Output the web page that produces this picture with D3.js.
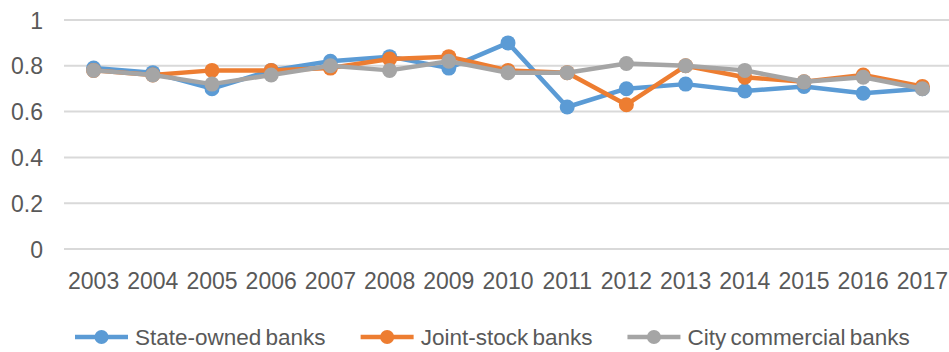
<!DOCTYPE html>
<html>
<head>
<meta charset="utf-8">
<script src="https://cdn.jsdelivr.net/npm/d3@7"></script>
<style>
    html, body { margin: 0; padding: 0; background: #fff; }
    svg text { font-family: "Liberation Sans", Arial, sans-serif; fill: #595959; }
</style>
</head>
<body>
<svg id="chart" width="949" height="352"></svg>
<script>
// Data
const years = ['2003', '2004', '2005', '2006', '2007', '2008', '2009', '2010',
               '2011', '2012', '2013', '2014', '2015', '2016', '2017'];
const stateOwned = [0.79, 0.77, 0.70, 0.78, 0.82, 0.84, 0.79, 0.90, 0.62, 0.70, 0.72, 0.69, 0.71, 0.68, 0.70];
const jointStock = [0.78, 0.76, 0.78, 0.78, 0.79, 0.83, 0.84, 0.78, 0.77, 0.63, 0.80, 0.75, 0.73, 0.76, 0.71];
const cityCommercial = [0.78, 0.76, 0.72, 0.76, 0.80, 0.78, 0.82, 0.77, 0.77, 0.81, 0.80, 0.78, 0.73, 0.75, 0.70];
const yTicks = [0, 0.2, 0.4, 0.6, 0.8, 1];
const seriesNames = ['State-owned banks', 'Joint-stock banks', 'City commercial banks'];
const seriesColors = ['#5b9bd5', '#ed7d31', '#a5a5a5'];

(function() {
    'use strict';

    const svg = d3.select('#chart');
    const margin = { left: 64, right: -3, top: 20, bottom: 103 };
    const width = 949 - margin.left - margin.right;
    const height = 352 - margin.top - margin.bottom;

    const g = svg.append('g')
        .attr('transform', `translate(${margin.left},${margin.top})`);

    const x = d3.scaleBand().domain(years).range([0, width]);
    const y = d3.scaleLinear().domain([0, 1]).range([height, 0]);

    // gridlines
    g.append('g')
        .selectAll('line')
        .data(yTicks)
        .join('line')
        .attr('x1', 0)
        .attr('x2', width)
        .attr('y1', d => y(d))
        .attr('y2', d => y(d))
        .attr('stroke', '#d9d9d9')
        .attr('stroke-width', 2);

    // y axis labels
    const yAxis = g.append('g')
        .attr('transform', 'translate(-21,0)')
        .call(d3.axisLeft(y).tickValues(yTicks).tickSize(0).tickPadding(0).tickFormat(d3.format('~g')));
    yAxis.select('.domain').remove();
    yAxis.selectAll('text')
        .attr('font-size', 23)
        .attr('dy', '0.35em')
        .style('fill', '#595959');

    // x axis labels
    const xAxis = g.append('g')
        .attr('transform', `translate(0,${height})`)
        .call(d3.axisBottom(x).tickSize(0).tickPadding(24));
    xAxis.select('.domain').remove();
    xAxis.selectAll('text')
        .attr('font-size', 23)
        .attr('dy', '0.71em')
        .style('fill', '#595959');

    const series = [stateOwned, jointStock, cityCommercial];
    const line = d3.line()
        .x((d, i) => x(years[i]) + x.bandwidth() / 2)
        .y(d => y(d));

    series.forEach((values, s) => {
        const sg = g.append('g');
        sg.append('path')
            .datum(values)
            .attr('fill', 'none')
            .attr('stroke', seriesColors[s])
            .attr('stroke-width', 4.5)
            .attr('stroke-linejoin', 'round')
            .attr('d', line);
        sg.selectAll('circle')
            .data(values)
            .join('circle')
            .attr('cx', (d, i) => x(years[i]) + x.bandwidth() / 2)
            .attr('cy', d => y(d))
            .attr('r', 7.5)
            .attr('fill', seriesColors[s]);
    });

    // legend
    const legend = svg.append('g').attr('transform', 'translate(0,337)');
    let cursor = 75;
    seriesNames.forEach((name, s) => {
        const item = legend.append('g').attr('transform', `translate(${cursor},0)`);
        item.append('line')
            .attr('x1', 0).attr('x2', 53)
            .attr('stroke', seriesColors[s])
            .attr('stroke-width', 4.5);
        item.append('circle')
            .attr('cx', 26.5)
            .attr('r', 7)
            .attr('fill', seriesColors[s]);
        const t = item.append('text')
            .attr('x', 60)
            .attr('dy', '0.35em')
            .attr('font-size', 22.5)
            .style('word-spacing', '-2px')
            .text(name);
        cursor += 60 + t.node().getComputedTextLength() + 35;
    });
})();
</script>
</body>
</html>
